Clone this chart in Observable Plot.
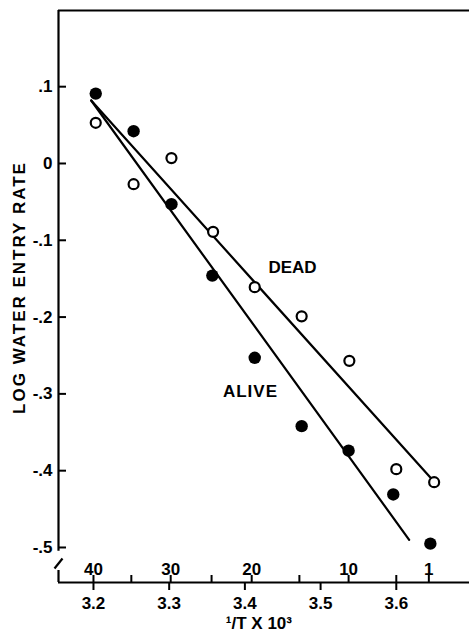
<!DOCTYPE html>
<html><head><meta charset="utf-8">
<script src="https://cdn.jsdelivr.net/npm/d3@7"></script>
<script src="https://cdn.jsdelivr.net/npm/@observablehq/plot@0.6"></script>
<style>body{margin:0;background:#fff}</style>
</head><body><div id="chart"></div>
<script>
// Alive (filled circles)
const aliveX = [3.203, 3.253, 3.303, 3.357, 3.413, 3.475, 3.537, 3.596, 3.645];
const aliveY = [0.091, 0.042, -0.053, -0.146, -0.253, -0.342, -0.374, -0.431, -0.495];
// Dead (open circles)
const deadX = [3.203, 3.253, 3.303, 3.358, 3.413, 3.475, 3.538, 3.600, 3.650];
const deadY = [0.053, -0.027, 0.007, -0.089, -0.161, -0.199, -0.257, -0.398, -0.415];
// fitted lines (end points)
const aliveLineX = [3.197, 3.617];
const aliveLineY = [0.082, -0.490];
const deadLineX = [3.197, 3.645];
const deadLineY = [0.082, -0.409];
// axis ticks
const yTicks = [0.1, 0, -0.1, -0.2, -0.3, -0.4, -0.5];
const yTickLabels = [".1", "0", "-.1", "-.2", "-.3", "-.4", "-.5"];
const xTicks = [3.2, 3.3, 3.4, 3.5, 3.6];
const xTickLabels = ["3.2", "3.3", "3.4", "3.5", "3.6"];
// temperature ticks (°C) on the inner side of the x axis
const tempTicks = [3.200, 3.250, 3.302, 3.356, 3.409, 3.472, 3.537, 3.600, 3.643];
const tempLabelPos = [3.200, 3.302, 3.409, 3.537, 3.643];
const tempLabels = ["40", "30", "20", "10", "1"];

const X0 = 3.1538, X1 = 3.6967, Y0 = -0.5456, Y1 = 0.1992;
const pxX = 1 / 757, pxY = 1 / 768;
const FONT = "'Liberation Sans', Arial, sans-serif";

const alive = aliveX.map((x, i) => ({x, y: aliveY[i]}));
const dead = deadX.map((x, i) => ({x, y: deadY[i]}));
const aliveLine = aliveLineX.map((x, i) => ({x, y: aliveLineY[i]}));
const deadLine = deadLineX.map((x, i) => ({x, y: deadLineY[i]}));

const plot = Plot.plot({
  width: 469, height: 634,
  marginLeft: 58, marginTop: 10, marginRight: 0, marginBottom: 52,
  x: {domain: [X0, X1], axis: null},
  y: {domain: [Y0, Y1], axis: null},
  style: {fontFamily: FONT, fontWeight: "bold", background: "#fff", color: "#000"},
  marks: [
    // frame: top line, bottom axis, left axis with break
    Plot.ruleY([Y1], {stroke: "#000", strokeWidth: 2}),
    Plot.ruleY([Y0], {stroke: "#000", strokeWidth: 2.2}),
    Plot.ruleX([X0], {y1: -0.505, y2: Y1, stroke: "#000", strokeWidth: 2.2}),
    Plot.ruleX([X0], {y1: Y0, y2: Y0 + 12 * pxY, stroke: "#000", strokeWidth: 2.2}),
    Plot.link([0], {x1: X0 - 4 * pxX, y1: Y0 + 14 * pxY, x2: X0 + 4 * pxX, y2: Y0 + 24 * pxY, stroke: "#000", strokeWidth: 2.2}),
    // y ticks (inward)
    Plot.ruleY(yTicks, {y: d => d, x1: X0, x2: X0 + 8 * pxX, stroke: "#000", strokeWidth: 2}),
    Plot.text(yTicks, {x: X0, y: d => d, text: (d, i) => yTickLabels[i], textAnchor: "end", dx: -6, fontSize: 17, fontWeight: "bold", fill: "#000"}),
    // x ticks (outward, down)
    Plot.ruleX(xTicks, {x: d => d, y1: Y0, y2: Y0 - 8 * pxY, stroke: "#000", strokeWidth: 2}),
    Plot.text(xTicks, {x: d => d, y: Y0, text: (d, i) => xTickLabels[i], dy: 21, fontSize: 17, fontWeight: "bold", fill: "#000"}),
    // temperature ticks (inward, up)
    Plot.ruleX(tempTicks, {x: d => d, y1: Y0, y2: Y0 + 7 * pxY, stroke: "#000", strokeWidth: 2}),
    Plot.text(tempLabelPos, {x: d => d, y: Y0, text: (d, i) => tempLabels[i], dy: -13, fontSize: 17, fontWeight: "bold", fill: "#000"}),
    // axis titles
    Plot.text(["\u00B9/T X 10\u00B3"], {x: 3.4185, y: Y0, text: d => d, dy: 41, fontSize: 17, fontWeight: "bold", fill: "#000"}),
    Plot.text(["LOG WATER ENTRY RATE"], {x: X0, dx: -39, y: -0.1615, text: d => d, rotate: -90, fontSize: 17, fontWeight: "bold", fill: "#000"}),
    // fitted lines
    Plot.line(deadLine, {x: "x", y: "y", stroke: "#000", strokeWidth: 2.2}),
    Plot.line(aliveLine, {x: "x", y: "y", stroke: "#000", strokeWidth: 2.2}),
    // points
    Plot.dot(dead, {x: "x", y: "y", r: 5, fill: "#fff", stroke: "#000", strokeWidth: 2.2}),
    Plot.dot(alive, {x: "x", y: "y", r: 6.2, fill: "#000", stroke: "none"}),
    // labels
    Plot.text(["DEAD"], {x: 3.4629, y: -0.1354, text: d => d, fontSize: 17, fontWeight: "bold", fill: "#000"}),
    Plot.text(["ALIVE"], {x: 3.4074, y: -0.2969, text: d => d, fontSize: 17, fontWeight: "bold", fill: "#000"})
  ]
});
document.getElementById("chart").appendChild(plot);
d3.select(plot).selectAll("text").each(function() {
  const t = this.textContent;
  if (t === "LOG WATER ENTRY RATE") this.setAttribute("letter-spacing", "2");
  if (t === "ALIVE") this.setAttribute("letter-spacing", "1");
});
</script>
</body></html>
